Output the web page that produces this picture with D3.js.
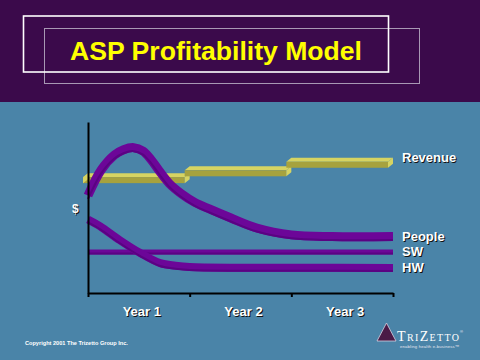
<!DOCTYPE html>
<html><head><meta charset="utf-8">
<script src="https://cdn.jsdelivr.net/npm/d3@7"></script>
<style>html,body{margin:0;padding:0;background:#4a84a8;}svg{display:block;}</style>
</head><body>
<script>
// ---- data ----
const title = "ASP Profitability Model";
const years = ["Year 1", "Year 2", "Year 3"];
const revenue = [66, 70, 75];                 // step level per year
const peopleT = [0, 0.13, 0.26, 0.35, 0.45, 0.54, 0.62, 0.7, 0.8, 0.92, 1.05, 1.2, 1.4, 1.66, 2.0, 2.4, 3.0];
const peopleV = [57, 72, 80.7, 83.8, 85, 83, 78, 71.5, 64, 58, 53, 49, 44, 38, 34, 33, 33];
const swT = [0, 1, 2, 3];
const swV = [24, 24, 24, 24];
const hwT = [0, 0.12, 0.31, 0.51, 0.71, 0.86, 1.0, 1.5, 2.0, 3.0];
const hwV = [43, 39, 31, 23.5, 17.5, 16, 15.2, 14.8, 14.8, 14.6];
const seriesNames = ["Revenue", "People", "SW", "HW"];

const W = 480, H = 360;
const svg = d3.select("body").append("svg").attr("width", W).attr("height", H);
const font = "'Liberation Sans', Arial, sans-serif";

// backgrounds
svg.append("rect").attr("width", W).attr("height", H).attr("fill", "#4a84a8");
svg.append("rect").attr("width", W).attr("height", 102).attr("fill", "#3b0a4b");

// title frames
svg.append("rect").attr("x", 44.5).attr("y", 28.5).attr("width", 375).attr("height", 55)
  .attr("fill", "none").attr("stroke", "#a898b4").attr("stroke-width", 1);
svg.append("rect").attr("x", 23.5).attr("y", 16).attr("width", 365).attr("height", 56)
  .attr("fill", "none").attr("stroke", "#ffffff").attr("stroke-width", 1.6);
svg.append("text").attr("x", 70).attr("y", 60)
  .attr("font-family", font).attr("font-weight", "bold").attr("font-size", 26)
  .attr("textLength", 292).attr("lengthAdjust", "spacingAndGlyphs")
  .attr("fill", "#ffff00").text(title);

// scales
const x = d3.scaleLinear().domain([0, 3]).range([88, 393]);
const xb = d3.scaleBand().domain(years).range([88, 393]);
const y = d3.scaleLinear().domain([0, 100]).range([293, 122]);

// revenue 3D steps
const rev = svg.append("g");
const pts = a => a.map(p => p.join(",")).join(" ");
revenue.forEach((v, i) => {
  const x0 = x(i), x1 = x(i + 1), yv = y(v);
  rev.append("polygon").attr("fill", "#d6d462")
    .attr("points", pts([[x0 - 5, yv - 3], [x1 - 5, yv - 3], [x1, yv - 7], [x0, yv - 7]]));
  rev.append("rect").attr("x", x0 - 5).attr("y", yv - 3).attr("width", x1 - x0).attr("height", 6)
    .attr("fill", "#a6a23e");
  rev.append("polygon").attr("fill", "#d6d462")
    .attr("points", pts([[x1 - 5, yv - 3], [x1, yv - 7], [x1, yv - 1], [x1 - 5, yv + 3]]));
  if (i === 0) {
    rev.append("polygon").attr("fill", "#d6d462")
      .attr("points", pts([[x0 - 5, yv - 3], [x0, yv - 7], [x0, yv - 1], [x0 - 5, yv + 3]]));
  }
});

// purple ribbons
const line = d3.line().x(d => x(d[0])).y(d => y(d[1])).curve(d3.curveCatmullRom.alpha(0.5));
function ribbon(ts, vs, w) {
  const p = ts.map((t, i) => [t, vs[i]]);
  svg.append("path").attr("d", line(p)).attr("fill", "none")
    .attr("stroke", "#6c0698").attr("stroke-width", w).attr("stroke-linejoin", "round");
  svg.append("path").attr("d", line(p)).attr("fill", "none")
    .attr("stroke", "#5a0382").attr("stroke-width", 2).attr("transform", `translate(0,${w / 2 - 1})`);
}
ribbon(swT, swV, 5);
ribbon(hwT, hwV, 8);
ribbon(peopleT, peopleV, 9);

// axes
const axisG = svg.append("g").attr("transform", "translate(0,293)")
  .call(d3.axisBottom(x).tickValues([0, 1, 2, 3]).tickSize(4).tickFormat("").tickSizeOuter(0));
axisG.select(".domain").attr("stroke", "#000").attr("stroke-width", 2);
axisG.selectAll(".tick line").attr("stroke", "#000").attr("stroke-width", 2);
const yAxisG = svg.append("g").attr("transform", "translate(88,0)")
  .call(d3.axisLeft(y).tickValues([]).tickSizeOuter(0));
yAxisG.select(".domain").attr("stroke", "#000").attr("stroke-width", 2);

// shadowed text helper
function stext(tx, ty, str, size, anchor) {
  const g = svg.append("g");
  g.append("text").attr("x", tx + 1).attr("y", ty + 1).attr("text-anchor", anchor || "start")
    .attr("font-family", font).attr("font-weight", "bold").attr("font-size", size)
    .attr("fill", "#111").text(str);
  g.append("text").attr("x", tx).attr("y", ty).attr("text-anchor", anchor || "start")
    .attr("font-family", font).attr("font-weight", "bold").attr("font-size", size)
    .attr("fill", "#ffffff").text(str);
}

years.forEach(yr => stext(xb(yr) + xb.bandwidth() / 2 + 3, 316, yr, 13, "middle"));

const lastVals = [revenue[revenue.length - 1], peopleV[peopleV.length - 1], swV[swV.length - 1], hwV[hwV.length - 1]];
seriesNames.forEach((n, i) => {
  const off = i === 0 ? -3 : 4;
  stext(402, y(lastVals[i]) + off, n, 13, "start");
});
stext(72, 213, "$", 12, "start");

// footer
svg.append("text").attr("x", 25).attr("y", 345).attr("font-family", font).attr("font-weight", "bold")
  .attr("font-size", 5.6).attr("fill", "#ffffff").text("Copyright 2001  The Trizetto Group Inc.");

// logo
svg.append("polygon").attr("points", "377,341 386.5,323 396,341").attr("fill", "#4a1a46")
  .attr("stroke", "#d8d0e0").attr("stroke-width", 0.8);
svg.append("text").attr("x", 397).attr("y", 341).attr("font-family", "'Liberation Serif', 'DejaVu Serif', serif")
  .attr("font-size", 14).attr("fill", "#ffffff").style("font-variant", "small-caps")
  .attr("textLength", 62).text("TriZetto");
svg.append("text").attr("x", 460).attr("y", 333).attr("font-family", font)
  .attr("font-size", 4).attr("fill", "#ffffff").text("®");
svg.append("text").attr("x", 400).attr("y", 348).attr("font-family", font)
  .attr("font-size", 4.2).attr("fill", "#e8e8f0").attr("textLength", 59).text("enabling health e-business™");
</script>
</body></html>
